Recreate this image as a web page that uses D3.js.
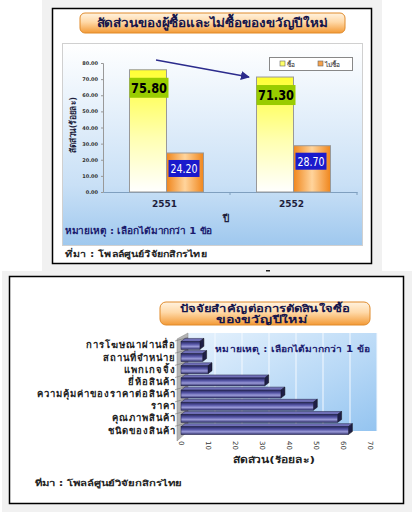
<!DOCTYPE html>
<html lang="th">
<head>
<meta charset="UTF-8"/>
<title>ของขวัญปีใหม่</title>
<script src="https://d3js.org/d3.v7.min.js"></script>
<style>
  body { margin: 0; background: #fff; }
  text { font-family: Tahoma, "DejaVu Sans", "Noto Sans", sans-serif; }
</style>
</head>
<body>
<script>
    // Top chart data
    var years = ["2551", "2552"];
    var buyValues = [75.80, 71.30];
    var notBuyValues = [24.20, 28.70];
    var seriesNames = ["ซื้อ", "ไม่ซื้อ"];
    var yTicks = [0, 10, 20, 30, 40, 50, 60, 70, 80];

    // Bottom chart data
    var factors = ["การโฆษณาผ่านสื่อ", "สถานที่จำหน่าย", "แพกเกจจิ้ง", "ยี่ห้อสินค้า",
                   "ความคุ้มค่าของราคาต่อสินค้า", "ราคา", "คุณภาพสินค้า", "ชนิดของสินค้า"];
    var factorValues = [7, 8, 10, 31, 37, 49, 58, 62];
    var xTicks = [0, 10, 20, 30, 40, 50, 60, 70];

    var svg = d3.select("body").append("svg")
        .attr("width", 414)
        .attr("height", 517);

    var defs = svg.append("defs");

    function linear(id, x2, y2, stops) {
        var g = defs.append("linearGradient").attr("id", id)
            .attr("x1", 0).attr("y1", 0).attr("x2", x2).attr("y2", y2);
        stops.forEach(function(s) {
            g.append("stop").attr("offset", s[0]).attr("stop-color", s[1]);
        });
    }
    linear("titleGrad", 0, 1, [["0%", "#fff3e0"], ["45%", "#ffd9a8"], ["100%", "#f39a36"]]);
    linear("areaGrad", 0, 1, [["0%", "#ffffff"], ["70%", "#c9e0f6"], ["100%", "#9fc8ee"]]);
    linear("yellowGrad", 0, 1, [["0%", "#ffff33"], ["55%", "#ffffb0"], ["100%", "#ffffff"]]);
    linear("orangeGrad", 1, 0, [["0%", "#f0861c"], ["50%", "#ffd49c"], ["100%", "#f0861c"]]);
    linear("wallGrad", 1, 1, [["0%", "#e6f2fd"], ["60%", "#b7d8f6"], ["100%", "#94c4f0"]]);
    linear("barGrad", 0, 1, [["0%", "#26265e"], ["35%", "#5656a6"], ["65%", "#9a9ad8"], ["100%", "#2e2e6a"]]);

    var marker = defs.append("marker").attr("id", "arrow")
        .attr("viewBox", "0 0 10 10").attr("refX", 9).attr("refY", 5)
        .attr("markerWidth", 6).attr("markerHeight", 6).attr("orient", "auto");
    marker.append("path").attr("d", "M0,0L10,5L0,10z").attr("fill", "#2b2b8c");

    // helper for text stretched to the width seen in the picture
    function label(x, y, str, size, width, opts) {
        opts = opts || {};
        var t = svg.append("text").attr("x", x).attr("y", y)
            .attr("font-size", size)
            .attr("font-weight", opts.normal ? "normal" : "bold")
            .attr("fill", opts.fill || "#222")
            .attr("text-anchor", opts.anchor || "start")
            .text(str);
        if (width) t.attr("textLength", width).attr("lengthAdjust", opts.adjust || "spacingAndGlyphs");
        if (opts.transform) t.attr("transform", opts.transform);
        return t;
    }

    // ---------- Top panel ----------
    svg.append("rect").attr("x", 42).attr("y", 0).attr("width", 340).attr("height", 271).attr("fill", "#f1f1f1");
    svg.append("rect").attr("x", 52.5).attr("y", 8.5).attr("width", 319).attr("height", 255)
        .attr("fill", "#fff").attr("stroke", "#000").attr("stroke-width", 1.5);

    svg.append("rect").attr("x", 80).attr("y", 13).attr("width", 265).attr("height", 20).attr("rx", 5)
        .attr("fill", "url(#titleGrad)").attr("stroke", "#e08a2a");
    label(212, 27, "สัดส่วนของผู้ซื้อและไม่ซื้อของขวัญปีใหม่", 12, 231, {anchor: "middle", fill: "#15154a"});

    svg.append("rect").attr("x", 62.5).attr("y", 43.5).attr("width", 300).attr("height", 202)
        .attr("fill", "url(#areaGrad)").attr("stroke", "#d0d0d0");

    var x0 = d3.scaleBand().domain(years).range([103, 357]);
    var x1 = d3.scaleBand().domain([0, 1]).range([0, 74]);
    var y = d3.scaleLinear().domain([0, 80]).range([192, 63]);

    var yAxis = svg.append("g").attr("transform", "translate(103,0)")
        .call(d3.axisLeft(y).tickValues(yTicks).tickSize(2).tickFormat(d3.format(".2f")));
    yAxis.selectAll("text").attr("font-size", 5).attr("font-weight", "bold").attr("fill", "#333");
    yAxis.selectAll("line, path").attr("stroke", "#999");

    var xAxis = svg.append("g").attr("transform", "translate(0,192)")
        .call(d3.axisBottom(x0).tickSize(0).tickFormat(""));
    xAxis.select("path").attr("stroke", "#7f9fbf");
    svg.append("g").selectAll("line").data(years).join("line")
        .attr("x1", function(d) { return x0(d) + x0.bandwidth(); })
        .attr("x2", function(d) { return x0(d) + x0.bandwidth(); })
        .attr("y1", 192).attr("y2", 195).attr("stroke", "#7f9fbf");

    var groups = svg.selectAll("g.year").data(years).join("g")
        .attr("class", "year")
        .attr("transform", function(d) { return "translate(" + (x0(d) + (x0.bandwidth() - 74) / 2) + ",0)"; });

    groups.append("rect")
        .attr("x", x1(0)).attr("width", x1.bandwidth())
        .attr("y", function(d, i) { return y(buyValues[i]); })
        .attr("height", function(d, i) { return y(0) - y(buyValues[i]); })
        .attr("fill", "url(#yellowGrad)").attr("stroke", "#999");
    groups.append("rect")
        .attr("x", x1(1)).attr("width", x1.bandwidth())
        .attr("y", function(d, i) { return y(notBuyValues[i]); })
        .attr("height", function(d, i) { return y(0) - y(notBuyValues[i]); })
        .attr("fill", "url(#orangeGrad)").attr("stroke", "#999");

    // value labels
    groups.append("rect")
        .attr("x", 0)
        .attr("y", function(d, i) { return y(buyValues[i]) + 8; })
        .attr("width", 39).attr("height", 20).attr("fill", "#99cc00");
    groups.append("text")
        .attr("x", 19.5).attr("y", function(d, i) { return y(buyValues[i]) + 23; })
        .attr("text-anchor", "middle").attr("font-size", 14).attr("font-weight", "bold").attr("fill", "#000")
        .attr("textLength", 36).attr("lengthAdjust", "spacingAndGlyphs")
        .text(function(d, i) { return buyValues[i].toFixed(2); });
    groups.append("rect")
        .attr("x", 39).attr("y", function(d, i) { return y(notBuyValues[i]) + 7; })
        .attr("width", 31).attr("height", 17).attr("fill", "#1a1acc");
    groups.append("text")
        .attr("x", 54.5).attr("y", function(d, i) { return y(notBuyValues[i]) + 20; })
        .attr("text-anchor", "middle").attr("font-size", 12).attr("fill", "#fff")
        .attr("textLength", 27).attr("lengthAdjust", "spacingAndGlyphs")
        .text(function(d, i) { return notBuyValues[i].toFixed(2); });

    // x labels
    svg.append("g").selectAll("text").data(years).join("text")
        .attr("x", function(d) { return x0(d) + x0.bandwidth() / 2 - 2; })
        .attr("y", 207).attr("text-anchor", "middle")
        .attr("font-size", 9).attr("font-weight", "bold").attr("fill", "#1e1e3c")
        .text(function(d) { return d; });
    label(226, 222, "ปี", 10, null, {anchor: "middle", fill: "#1e1e3c"});
    label(0, 0, "สัดส่วน(ร้อยละ)", 9, 56, {anchor: "middle", fill: "#1e1e3c", transform: "translate(76,125) rotate(-90)"});
    label(65, 234, "หมายเหตุ : เลือกได้มากกว่า 1 ข้อ", 9, 147, {fill: "#1a1a6e"});
    label(65, 257, "ที่มา : โพลล์ศูนย์วิจัยกสิกรไทย", 8.5, 142, {fill: "#222"});

    // legend
    var legend = svg.append("g");
    legend.append("rect").attr("x", 269.5).attr("y", 57.5).attr("width", 83).attr("height", 13)
        .attr("fill", "#fff").attr("stroke", "#888");
    var legendFill = ["#ffff66", "#f7a24a"];
    seriesNames.forEach(function(name, i) {
        var lx = 280 + i * 38;
        legend.append("rect").attr("x", lx).attr("y", 61).attr("width", 5).attr("height", 5)
            .attr("fill", legendFill[i]).attr("stroke", "#666").attr("stroke-width", 0.6);
        legend.append("text").attr("x", lx + 7).attr("y", 67).attr("font-size", 6.5).attr("fill", "#222").text(name);
    });

    // arrow
    svg.append("line").attr("x1", 156).attr("y1", 60).attr("x2", 249).attr("y2", 77)
        .attr("stroke", "#2b2b8c").attr("stroke-width", 1.5).attr("marker-end", "url(#arrow)");

    // ---------- Bottom panel ----------
    svg.append("rect").attr("x", 2).attr("y", 271).attr("width", 410).attr("height", 241).attr("fill", "#f1f1f1");
    svg.append("rect").attr("x", 9.5).attr("y", 276.5).attr("width", 394).attr("height", 227)
        .attr("fill", "#fff").attr("stroke", "#000").attr("stroke-width", 1.5);
    svg.append("rect").attr("x", 266).attr("y", 270).attr("width", 4).attr("height", 1.5).attr("fill", "#222");

    svg.append("rect").attr("x", 160).attr("y", 302).attr("width", 210).attr("height", 23).attr("rx", 6)
        .attr("fill", "url(#titleGrad)").attr("stroke", "#e08a2a");
    label(265, 312, "ปัจจัยสำคัญต่อการตัดสินใจซื้อ", 10, 170, {anchor: "middle", fill: "#15154a"});
    label(262, 323, "ของขวัญปีใหม่", 10, 92, {anchor: "middle", fill: "#15154a"});

    var dx = 7, dy = -6;
    var hx = d3.scaleLinear().domain([0, 70]).range([181, 370]);
    var hy = d3.scaleBand().domain(factors).range([339, 437]).paddingInner(0.35).paddingOuter(0.2);

    // back wall
    svg.append("rect").attr("x", hx(0) + dx).attr("y", 339 + dy).attr("width", hx(70) - hx(0)).attr("height", 98)
        .attr("fill", "url(#wallGrad)");
    svg.append("g").selectAll("line").data(xTicks.slice(1)).join("line")
        .attr("x1", function(d) { return hx(d) + dx; }).attr("x2", function(d) { return hx(d) + dx; })
        .attr("y1", 339 + dy).attr("y2", 437 + dy).attr("stroke", "#f4f9ff").attr("stroke-width", 1);
    // left side wall
    svg.append("path")
        .attr("d", "M" + (hx(0) - 4) + ",339L" + (hx(0) + dx) + "," + (339 + dy) + "L" + (hx(0) + dx) + "," + (437 + dy) +
                   "L" + (hx(0) - 4) + ",441z")
        .attr("fill", "#b4b4b4").attr("stroke", "#8a8a8a").attr("stroke-width", 0.5);
    svg.append("g").selectAll("line").data(factors).join("line")
        .attr("x1", hx(0) - 6).attr("x2", hx(0) + dx)
        .attr("y1", function(d) { return hy(d) - hy.step() * 0.2 + 2; })
        .attr("y2", function(d) { return hy(d) - hy.step() * 0.2 + 2 + dy * 0.6; })
        .attr("stroke", "#777").attr("stroke-width", 0.6);

    // bars
    var bars = svg.append("g").selectAll("g").data(factors).join("g");
    var bdx = 4, bdy = -3;
    bars.append("path")
        .attr("d", function(d, i) {
            var x0b = hx(0), x1b = hx(factorValues[i]), t = hy(d);
            return "M" + x0b + "," + t + "L" + (x0b + bdx) + "," + (t + bdy) + "L" + (x1b + bdx) + "," + (t + bdy) + "L" + x1b + "," + t + "z";
        })
        .attr("fill", "#7070b8").attr("stroke", "#1c1c40").attr("stroke-width", 0.5);
    bars.append("path")
        .attr("d", function(d, i) {
            var x1b = hx(factorValues[i]), t = hy(d), b = t + hy.bandwidth();
            return "M" + x1b + "," + t + "L" + (x1b + bdx) + "," + (t + bdy) + "L" + (x1b + bdx) + "," + (b + bdy) + "L" + x1b + "," + b + "z";
        })
        .attr("fill", "#1e1e46").attr("stroke", "#111").attr("stroke-width", 0.5);
    bars.append("rect")
        .attr("x", hx(0)).attr("y", function(d) { return hy(d); })
        .attr("width", function(d, i) { return hx(factorValues[i]) - hx(0); })
        .attr("height", hy.bandwidth())
        .attr("fill", "url(#barGrad)").attr("stroke", "#1c1c40").attr("stroke-width", 0.5);

    // category labels
    svg.append("g").selectAll("text").data(factors).join("text")
        .attr("x", 176).attr("y", function(d) { return hy(d) + hy.bandwidth() / 2 + 3; })
        .attr("text-anchor", "end").attr("font-size", 9.5).attr("font-weight", "bold").attr("fill", "#222")
        .attr("letter-spacing", 1)
        .text(function(d) { return d; });

    // x axis ticks, rotated
    svg.append("g").selectAll("text").data(xTicks).join("text")
        .attr("transform", function(d) { return "translate(" + hx(d) + ",441) rotate(90)"; })
        .attr("dy", "0.35em").attr("font-size", 7).attr("fill", "#333")
        .text(function(d) { return d; });
    label(274, 463, "สัดส่วน(ร้อยละ)", 9, 82, {anchor: "middle"});

    label(215, 352, "หมายเหตุ : เลือกได้มากกว่า 1 ข้อ", 8.5, 155, {fill: "#1a1a6e"});
    label(35, 486, "ที่มา : โพลล์ศูนย์วิจัยกสิกรไทย", 8, 147, {fill: "#222"});
</script>
</body>
</html>
